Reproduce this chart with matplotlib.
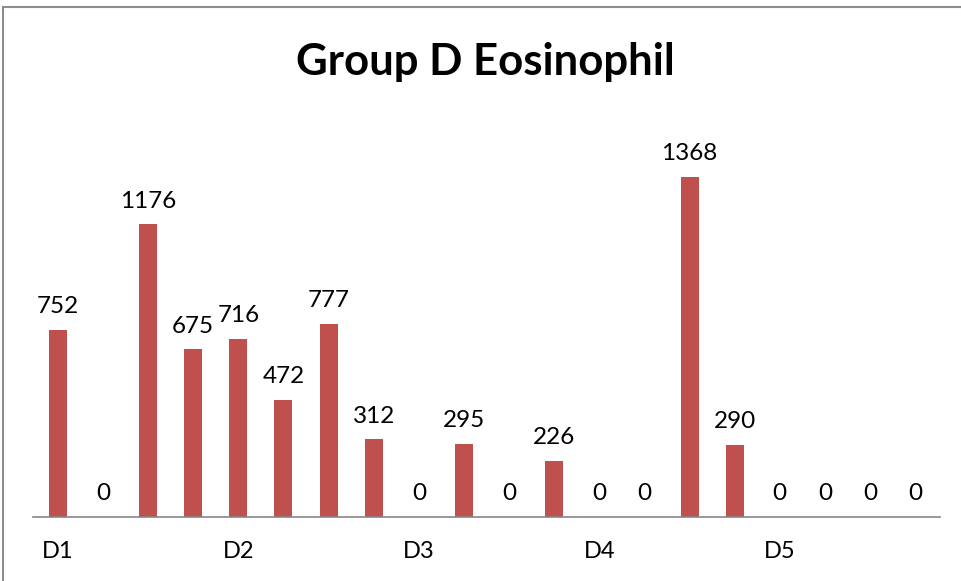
import matplotlib.pyplot as plt
from matplotlib.patches import Rectangle

values = [752, 0, 1176, 675, 716, 472, 777, 312, 0, 295, 0, 226, 0, 0, 1368, 290, 0, 0, 0, 0]
group_labels = ["D1", "D2", "D3", "D4", "D5"]
group_positions = [0, 4, 8, 12, 16]
title = "Group D Eosinophil"

plt.rcParams['font.family'] = ['Lato', 'DejaVu Sans']

W, H = 961, 581
fig = plt.figure(figsize=(W / 100, H / 100), dpi=100)
fig.patch.set_facecolor('white')

# outer chart frame
fig.patches.append(Rectangle((3 / W, -0.1), 1.2, 1 - 7 / H + 0.1, transform=fig.transFigure,
                             fill=False, edgecolor='#8c8c8c', linewidth=1.5))

ax = fig.add_axes([33 / W, 64 / H, (940 - 33) / W, (462 - 64) / H])
x = list(range(len(values)))
ax.bar(x, values, width=0.4, color='#C0504D')
for xi, v in zip(x, values):
    ax.annotate(str(v), (xi, v), xytext=(0, 9), textcoords='offset points',
                ha='center', va='bottom', fontsize=17.5, color='black')

ax.set_xlim(-0.55, 19.55)
ax.set_ylim(0, 1600)
ax.set_yticks([])
ax.set_xticks(group_positions)
ax.set_xticklabels(group_labels, fontsize=17)
ax.tick_params(axis='x', length=0, pad=17)
for s in ['top', 'right', 'left']:
    ax.spines[s].set_visible(False)
ax.spines['bottom'].set_color('#868686')
ax.spines['bottom'].set_linewidth(1.2)

fig.text(485 / W, 1 - 62 / H, title, ha='center', va='center', fontsize=31.5,
         fontweight='bold', color='black')

fig.savefig('out.png', dpi=100)
